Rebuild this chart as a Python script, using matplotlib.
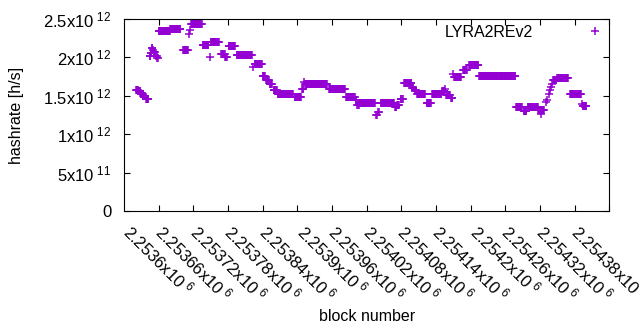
import numpy as np
import matplotlib
matplotlib.use("Agg")
import matplotlib.pyplot as plt
from matplotlib.ticker import FuncFormatter, MultipleLocator, FixedLocator

plt.rcParams['font.family'] = ['Liberation Sans', 'DejaVu Sans']
plt.rcParams['mathtext.fontset'] = 'custom'
plt.rcParams['mathtext.rm'] = 'Liberation Sans'

# runs of blocks with the same hashrate (unit: 1e12 h/s)
run_start = [2253561, 2253565, 2253569, 2253573, 2253578, 2253584, 2253586, 2253588,
             2253590, 2253591, 2253595, 2253597, 2253600, 2253620, 2253642, 2253652,
             2253654, 2253656, 2253676, 2253688, 2253690, 2253708, 2253715, 2253721,
             2253735, 2253763, 2253766, 2253780, 2253786, 2253792, 2253799, 2253806,
             2253835, 2253848, 2253852, 2253853, 2253895, 2253924, 2253941, 2253944,
             2253948, 2253976, 2253980, 2253984, 2254009, 2254013, 2254019, 2254025,
             2254039, 2254043, 2254047, 2254064, 2254073, 2254091, 2254095, 2254098,
             2254106, 2254109, 2254111, 2254127, 2254137, 2254155, 2254219, 2254232,
             2254239, 2254257, 2254262, 2254271, 2254273, 2254275, 2254277, 2254279,
             2254281, 2254283, 2254290, 2254312, 2254333, 2254334]
run_end = [2253564, 2253568, 2253572, 2253576, 2253582, 2253585, 2253587, 2253589,
           2253590, 2253593, 2253596, 2253598, 2253619, 2253637, 2253650, 2253652,
           2253654, 2253674, 2253686, 2253688, 2253704, 2253714, 2253718, 2253732,
           2253761, 2253763, 2253778, 2253784, 2253790, 2253796, 2253804, 2253832,
           2253846, 2253850, 2253852, 2253891, 2253922, 2253939, 2253942, 2253946,
           2253974, 2253977, 2253981, 2254007, 2254011, 2254016, 2254022, 2254037,
           2254041, 2254045, 2254061, 2254071, 2254089, 2254094, 2254095, 2254104,
           2254108, 2254109, 2254123, 2254133, 2254153, 2254217, 2254229, 2254236,
           2254256, 2254267, 2254262, 2254271, 2254273, 2254275, 2254277, 2254279,
           2254281, 2254288, 2254308, 2254331, 2254333, 2254340]
run_rate = [1.58, 1.56, 1.53, 1.50, 1.46, 2.02, 2.06, 2.12,
            2.10, 2.07, 2.02, 1.99, 2.35, 2.37, 2.10, 2.30,
            2.36, 2.43, 2.16, 2.00, 2.20, 2.05, 2.00, 2.15,
            2.03, 1.88, 1.92, 1.76, 1.71, 1.65, 1.58, 1.52,
            1.48, 1.59, 1.68, 1.65, 1.59, 1.48, 1.45, 1.38,
            1.40, 1.25, 1.29, 1.40, 1.35, 1.38, 1.46, 1.67,
            1.60, 1.57, 1.53, 1.40, 1.53, 1.56, 1.59, 1.51,
            1.47, 1.78, 1.75, 1.84, 1.90, 1.76, 1.36, 1.30,
            1.35, 1.31, 1.26, 1.42, 1.45, 1.52, 1.57, 1.61,
            1.66, 1.70, 1.73, 1.53, 1.39, 1.37]

x_ticks = [2253600, 2253660, 2253720, 2253780, 2253840, 2253900, 2253960,
           2254020, 2254080, 2254140, 2254200, 2254260, 2254320, 2254380]

blocks = []
rates = []
for s, e, r in zip(run_start, run_end, run_rate):
    for b in range(s, e + 1):
        blocks.append(b)
        rates.append(r * 1e12)
blocks = np.array(blocks)
rates = np.array(rates)


def sci_label(v, pos=None):
    if v == 0:
        return "0"
    exp = int(np.floor(np.log10(abs(v)) + 1e-9))
    mant = v / 10 ** exp
    m = f"{mant:.6f}".rstrip('0').rstrip('.')
    return r"$\mathregular{%sx10^{\ %d}}$" % (m, exp)


fig = plt.figure(figsize=(6.4, 3.3), dpi=100)
ax = fig.add_axes([0.194, 0.3606, 0.758, 0.5818])

ax.plot(blocks, rates, linestyle='none', marker='+', markersize=5.5,
        markeredgewidth=1.1, color='#9400d3', label='LYRA2REv2')

ax.set_xlim(2253540, 2254380)
ax.set_ylim(0, 2.5e12)
ax.xaxis.set_major_locator(FixedLocator(x_ticks))
ax.yaxis.set_major_locator(MultipleLocator(0.5e12))
ax.xaxis.set_major_formatter(FuncFormatter(sci_label))
ax.yaxis.set_major_formatter(FuncFormatter(sci_label))

ax.tick_params(direction='in', length=4, width=0.8, labelsize=12,
               top=True, right=True, colors='black')
ax.tick_params(axis='y', pad=9)
ax.tick_params(axis='x', pad=7)
for lab in ax.get_xticklabels():
    lab.set_rotation(-45)
    lab.set_ha('center')
    lab.set_va('top')
for sp in ax.spines.values():
    sp.set_linewidth(0.8)

ax.set_ylabel('hashrate [h/s]', fontsize=11.5)
ax.yaxis.set_label_coords(-0.207, 0.5)
ax.set_xlabel('block number', fontsize=11.5)
ax.xaxis.set_label_coords(0.5, -0.51)

ax.legend(loc='upper right', bbox_to_anchor=(1.0, 0.97), frameon=False,
          markerfirst=False, handlelength=1.75, handletextpad=3.0,
          borderpad=0, borderaxespad=0, fontsize=11.5)

fig.savefig('out.png', dpi=100)
